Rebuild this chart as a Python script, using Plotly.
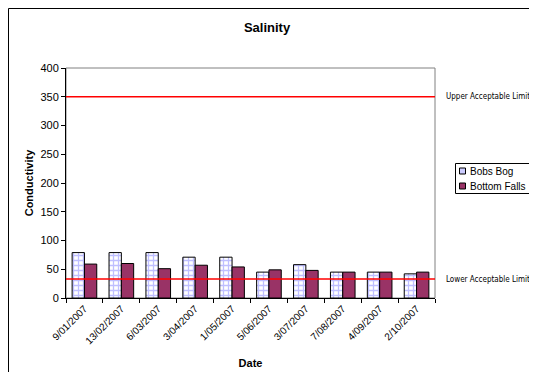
import plotly.graph_objects as go

dates = ["9/01/2007", "13/02/2007", "6/03/2007", "3/04/2007", "1/05/2007",
         "5/06/2007", "3/07/2007", "7/08/2007", "4/09/2007", "2/10/2007"]
bobs_bog = [79, 79, 79, 71, 71, 45, 58, 45, 45, 42]
bottom_falls = [59, 60, 51, 57, 54, 49, 48, 45, 45, 45]
upper_limit = 350
lower_limit = 33
y_ticks = [0, 50, 100, 150, 200, 250, 300, 350, 400]
series_names = ["Bobs Bog", "Bottom Falls"]
series_colors = ["#ccccff", "#993366"]

# page body adds an 8px offset; figure sized so the page does not overflow
W, H = 521, 364
L, R, T, B = 58, W - 427, 60, H - 290
plot_h = H - T - B   # 230
plot_w = W - L - R   # 369


def px_x(sx):  # screen x -> paper x
    return (sx - 8 - L) / plot_w


def px_y(sy):  # screen y -> paper y
    return (T + plot_h - (sy - 8)) / plot_h


fig = go.Figure()
fig.add_trace(go.Bar(
    x=dates, y=bobs_bog, name=series_names[0], showlegend=False,
    marker=dict(color="white", line=dict(color="black", width=1),
                pattern=dict(shape="+", fgcolor="#8080ff", bgcolor="white",
                             size=5, solidity=0.45, fillmode="overlay")),
))
fig.add_trace(go.Bar(
    x=dates, y=bottom_falls, name=series_names[1], showlegend=False,
    marker=dict(color=series_colors[1], line=dict(color="black", width=1)),
))

for val in (upper_limit, lower_limit):
    fig.add_shape(type="line", xref="x domain", yref="y", x0=0, x1=1,
                  y0=val, y1=val, line=dict(color="#ff0000", width=1.5))

narrow = "Liberation Sans Narrow, DejaVu Sans Condensed, Liberation Sans, Arial"
for label, val in (("Upper Acceptable Limit", upper_limit),
                   ("Lower Acceptable Limit", lower_limit)):
    fig.add_annotation(xref="paper", yref="y", x=px_x(444), y=val,
                       text=label, showarrow=False, xanchor="left",
                       font=dict(family=narrow, size=8, color="black"))

# outer chart border
fig.add_shape(type="rect", xref="paper", yref="paper",
              x0=px_x(8.5), x1=3, y0=-2, y1=px_y(8.5),
              line=dict(color="black", width=1), layer="below")

# legend box (drawn manually so it fits the visible area)
fig.add_shape(type="rect", xref="paper", yref="paper",
              x0=px_x(455.5), x1=3, y0=px_y(193.5), y1=px_y(163.5),
              line=dict(color="black", width=1), fillcolor="white")
for i, (nm, col) in enumerate(zip(series_names, series_colors)):
    cy = 171 + i * 15
    fig.add_shape(type="rect", xref="paper", yref="paper",
                  x0=px_x(459.5), x1=px_x(465.5), y0=px_y(cy + 3), y1=px_y(cy - 3),
                  line=dict(color="black", width=1), fillcolor=col)
    fig.add_annotation(xref="paper", yref="paper", x=px_x(468), y=px_y(cy),
                       text=nm, showarrow=False, xanchor="left", yanchor="middle",
                       font=dict(size=10, color="black"))

fig.update_layout(
    width=W, height=H,
    margin=dict(l=L, r=R, t=T, b=B, autoexpand=False),
    paper_bgcolor="white", plot_bgcolor="white",
    font=dict(family="Liberation Sans, Arial", size=11, color="black"),
    title=dict(text="<b>Salinity</b>", x=259 / W, xanchor="center",
               y=1 - 19 / H, yanchor="middle", font=dict(size=13)),
    barmode="group", bargap=0.333, bargroupgap=0,
    showlegend=False,
    xaxis=dict(
        type="category", tickson="boundaries", ticks="outside", ticklen=4,
        tickcolor="black", tickangle=-45, tickfont=dict(size=10),
        showline=True, linecolor="black", linewidth=1, mirror=False,
        automargin=False,
        title=dict(text="<b>Date</b>", font=dict(size=11), standoff=13),
    ),
    yaxis=dict(
        range=[0, 400], tickvals=y_ticks, ticks="outside", ticklen=4,
        tickcolor="black", showgrid=False, zeroline=False,
        showline=True, linecolor="black", linewidth=1,
        tickfont=dict(size=11), automargin=False,
        title=dict(text="<b>Conductivity</b>", font=dict(size=11), standoff=4),
    ),
)
# gray plot-area border top/right
fig.add_shape(type="rect", xref="x domain", yref="y domain", x0=0, x1=1, y0=0, y1=1,
              line=dict(color="#808080", width=1), layer="below")

fig.write_html("out.html")
